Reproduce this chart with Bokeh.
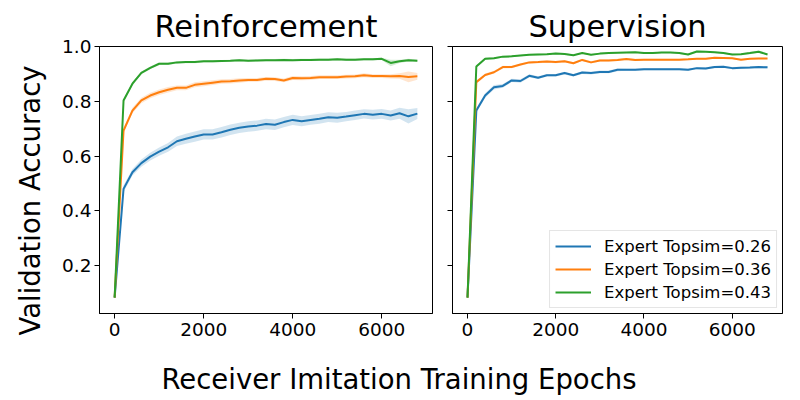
import math
from bokeh.plotting import figure
from bokeh.models import Range1d, FixedTicker, Label, Legend, LegendItem, PrintfTickFormatter
from bokeh.layouts import row, column
from bokeh.embed import file_html
from bokeh.resources import INLINE

# ---------------- data ----------------
epochs = [0, 200, 400, 600, 800, 1000, 1200, 1400, 1600, 1800, 2000, 2200, 2400, 2600,
          2800, 3000, 3200, 3400, 3600, 3800, 4000, 4200, 4400, 4600, 4800, 5000, 5200,
          5400, 5600, 5800, 6000, 6200, 6400, 6600, 6800]

series_labels = ["Expert Topsim=0.26", "Expert Topsim=0.36", "Expert Topsim=0.43"]
panel_titles = ["Reinforcement", "Supervision"]

# Reinforcement panel
rl_026 = [0.083, 0.480, 0.541, 0.574, 0.598, 0.616, 0.632, 0.654, 0.663, 0.671, 0.679, 0.679,
          0.687, 0.696, 0.703, 0.708, 0.711, 0.717, 0.714, 0.724, 0.732, 0.727, 0.732, 0.736,
          0.742, 0.740, 0.744, 0.749, 0.754, 0.751, 0.754, 0.748, 0.756, 0.745, 0.755]
rl_036 = [0.083, 0.693, 0.766, 0.803, 0.821, 0.833, 0.842, 0.849, 0.849, 0.860, 0.864, 0.868,
          0.872, 0.873, 0.876, 0.878, 0.878, 0.882, 0.881, 0.876, 0.885, 0.884, 0.885, 0.888,
          0.888, 0.888, 0.890, 0.891, 0.895, 0.892, 0.892, 0.891, 0.892, 0.889, 0.891]
rl_043 = [0.083, 0.803, 0.864, 0.904, 0.922, 0.937, 0.937, 0.942, 0.943, 0.943, 0.946, 0.946,
          0.947, 0.948, 0.950, 0.948, 0.949, 0.950, 0.950, 0.951, 0.950, 0.951, 0.951, 0.952,
          0.952, 0.953, 0.952, 0.952, 0.953, 0.953, 0.955, 0.940, 0.946, 0.950, 0.948]
rl_026_sd = [0.004, 0.012, 0.012, 0.013, 0.014, 0.015, 0.016, 0.017, 0.018, 0.019, 0.019, 0.019,
             0.019, 0.019, 0.019, 0.019, 0.019, 0.019, 0.019, 0.019, 0.019, 0.018, 0.018, 0.018,
             0.018, 0.018, 0.017, 0.017, 0.017, 0.018, 0.018, 0.018, 0.020, 0.026, 0.020]
rl_036_sd = [0.004, 0.010, 0.010, 0.010, 0.010, 0.010, 0.010, 0.009, 0.009, 0.009, 0.009, 0.009,
             0.008, 0.008, 0.008, 0.007, 0.007, 0.007, 0.007, 0.007, 0.007, 0.007, 0.007, 0.007,
             0.007, 0.007, 0.007, 0.007, 0.007, 0.007, 0.007, 0.008, 0.010, 0.020, 0.012]
rl_043_sd = [0.004, 0.006, 0.006, 0.005, 0.005, 0.005, 0.005, 0.004, 0.004, 0.004, 0.004, 0.004,
             0.004, 0.004, 0.004, 0.004, 0.004, 0.004, 0.004, 0.004, 0.004, 0.004, 0.004, 0.004,
             0.004, 0.004, 0.004, 0.004, 0.004, 0.004, 0.004, 0.012, 0.006, 0.005, 0.004]

# Supervision panel
sv_026 = [0.083, 0.766, 0.821, 0.851, 0.856, 0.876, 0.874, 0.893, 0.886, 0.895, 0.895, 0.903,
          0.895, 0.905, 0.903, 0.907, 0.907, 0.915, 0.915, 0.915, 0.917, 0.917, 0.917, 0.917,
          0.917, 0.915, 0.921, 0.920, 0.925, 0.926, 0.921, 0.922, 0.923, 0.925, 0.924]
sv_036 = [0.083, 0.870, 0.896, 0.906, 0.925, 0.925, 0.934, 0.942, 0.943, 0.945, 0.943, 0.946,
          0.939, 0.951, 0.942, 0.949, 0.949, 0.951, 0.954, 0.951, 0.952, 0.952, 0.952, 0.952,
          0.952, 0.953, 0.955, 0.955, 0.959, 0.958, 0.957, 0.952, 0.955, 0.956, 0.956]
sv_043 = [0.083, 0.927, 0.955, 0.957, 0.963, 0.964, 0.967, 0.970, 0.971, 0.972, 0.974, 0.973,
          0.968, 0.976, 0.970, 0.974, 0.976, 0.977, 0.978, 0.979, 0.976, 0.976, 0.978, 0.978,
          0.976, 0.971, 0.982, 0.981, 0.979, 0.976, 0.971, 0.972, 0.976, 0.981, 0.971]
sv_026_sd = [0.004, 0.009, 0.008, 0.008, 0.007, 0.006, 0.006, 0.006, 0.005, 0.005, 0.005, 0.005,
             0.005, 0.005, 0.005, 0.005, 0.005, 0.005, 0.004, 0.004, 0.004, 0.004, 0.004, 0.004,
             0.004, 0.004, 0.004, 0.004, 0.004, 0.004, 0.004, 0.004, 0.004, 0.004, 0.004]
sv_036_sd = [0.004, 0.006, 0.005, 0.005, 0.005, 0.004, 0.004, 0.004, 0.004, 0.004, 0.004, 0.004,
             0.004, 0.004, 0.004, 0.004, 0.004, 0.004, 0.004, 0.004, 0.003, 0.003, 0.003, 0.003,
             0.003, 0.003, 0.003, 0.003, 0.003, 0.003, 0.003, 0.003, 0.003, 0.003, 0.003]
sv_043_sd = [0.004, 0.005, 0.004, 0.004, 0.003, 0.003, 0.003, 0.003, 0.003, 0.003, 0.003, 0.003,
             0.003, 0.003, 0.003, 0.003, 0.003, 0.003, 0.003, 0.003, 0.003, 0.003, 0.003, 0.003,
             0.003, 0.003, 0.003, 0.003, 0.003, 0.003, 0.003, 0.003, 0.004, 0.004, 0.003]

x_ticks = [0, 2000, 4000, 6000]
y_ticks = [0.2, 0.4, 0.6, 0.8, 1.0]
colors = ["#1f77b4", "#ff7f0e", "#2ca02c"]

FONT = "DejaVu Sans"
y_range = Range1d(0.025, 1.0)

PANEL_H = 350
TOTAL_H = 396


def make_panel(title, width, border_left, border_right, means, sds, show_ylabels):
    p = figure(width=width, height=PANEL_H,
               x_range=Range1d(-340, 7140), y_range=y_range,
               output_backend="svg", toolbar_location=None,
               min_border_left=border_left, min_border_right=border_right,
               min_border_top=46, min_border_bottom=37, title=title)
    p.title.text_font = FONT
    p.title.text_font_size = "30.5px"
    p.title.text_font_style = "normal"
    p.title.text_color = "black"
    p.title.align = "center"
    p.title.standoff = 5
    p.grid.visible = False
    p.outline_line_color = "black"
    p.outline_line_width = 1
    p.background_fill_color = "white"
    p.border_fill_color = "white"

    for ax in (p.xaxis[0], p.yaxis[0]):
        ax.axis_line_color = "black"
        ax.major_tick_line_color = "black"
        ax.major_tick_in = 0
        ax.major_tick_out = 5
        ax.minor_tick_line_color = None
        ax.major_label_text_font = FONT
        ax.major_label_text_font_size = "18.5px"
        ax.major_label_text_color = "black"
    p.xaxis.ticker = FixedTicker(ticks=x_ticks)
    p.xaxis.major_label_standoff = 4
    p.yaxis.ticker = FixedTicker(ticks=y_ticks)
    p.yaxis.formatter = PrintfTickFormatter(format="%.1f")
    p.yaxis.major_label_standoff = 3
    if not show_ylabels:
        p.yaxis.major_label_overrides = {t: "" for t in y_ticks}

    items = []
    for m, sd, c, lab in zip(means, sds, colors, series_labels):
        lo = [a - b for a, b in zip(m, sd)]
        hi = [a + b for a, b in zip(m, sd)]
        p.varea(x=epochs, y1=lo, y2=hi, fill_color=c, fill_alpha=0.2)
        r = p.line(x=epochs, y=m, line_color=c, line_width=2)
        items.append(LegendItem(label=lab, renderers=[r]))
    return p, items


p1, _ = make_panel(panel_titles[0], 382, 41, 8,
                   [rl_026, rl_036, rl_043], [rl_026_sd, rl_036_sd, rl_043_sd], True)
p2, items2 = make_panel(panel_titles[1], 352, 12, 10,
                        [sv_026, sv_036, sv_043], [sv_026_sd, sv_036_sd, sv_043_sd], False)

legend = Legend(items=items2, location="bottom_right",
                label_text_font=FONT, label_text_font_size="16.5px", label_text_color="black",
                glyph_width=36, glyph_height=20, label_height=20, label_standoff=13,
                spacing=3, padding=5, margin=5,
                border_line_color="#cccccc", border_line_width=1,
                background_fill_color="white", background_fill_alpha=0.8)
p2.add_layout(legend)

# y label strip
ystrip = figure(width=58, height=TOTAL_H, x_range=Range1d(0, 58), y_range=Range1d(0, TOTAL_H),
                x_axis_type=None, y_axis_type=None, output_backend="svg",
                toolbar_location=None, min_border=0)
ystrip.grid.visible = False
ystrip.outline_line_color = None
ystrip.add_layout(Label(x=29, y=TOTAL_H - 200, text="Validation Accuracy", angle=math.pi / 2,
                        text_align="center", text_baseline="middle",
                        text_font=FONT, text_font_size="27.5px", text_color="black"))

# x label strip
XS_H = TOTAL_H - PANEL_H
xstrip = figure(width=734, height=XS_H, x_range=Range1d(0, 734), y_range=Range1d(0, XS_H),
                x_axis_type=None, y_axis_type=None, output_backend="svg",
                toolbar_location=None, min_border=0)
xstrip.grid.visible = False
xstrip.outline_line_color = None
xstrip.add_layout(Label(x=340.5, y=18, text="Receiver Imitation Training Epochs",
                        text_align="center", text_baseline="alphabetic",
                        text_font=FONT, text_font_size="27.5px", text_color="black"))

layout = row(ystrip, column(row(p1, p2), xstrip))

open("out.html", "w").write(file_html(layout, INLINE))
